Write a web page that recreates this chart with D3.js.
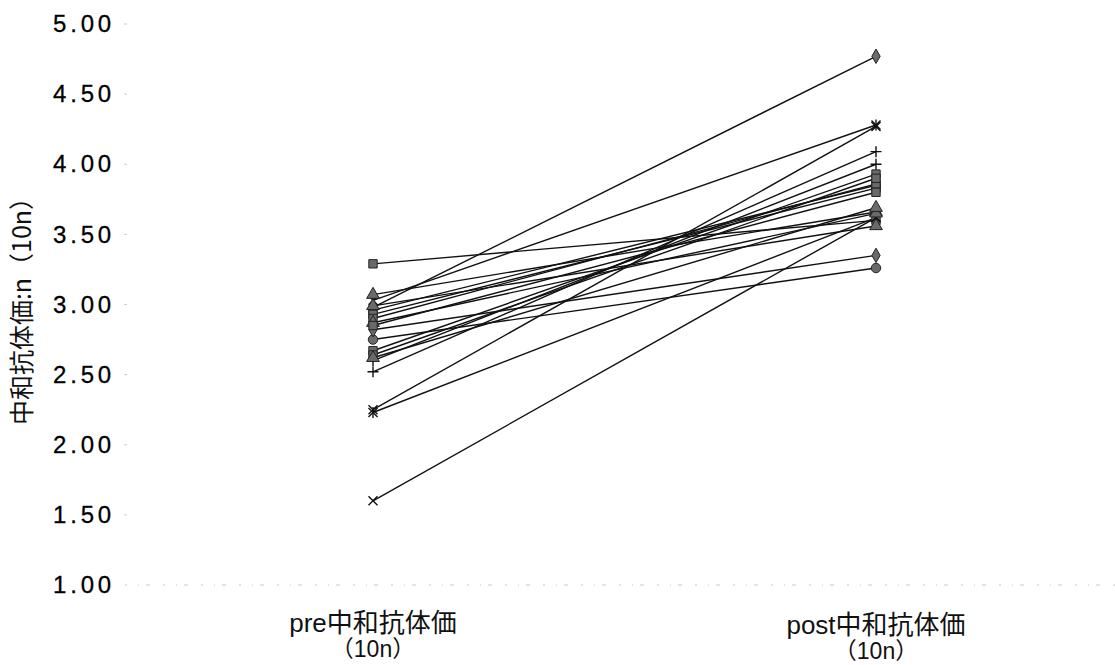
<!DOCTYPE html>
<html><head><meta charset="utf-8">
<script src="https://cdn.jsdelivr.net/npm/d3@7"></script>
<style>body{margin:0;background:#fff}</style>
</head><body>
<svg id="c" width="1115" height="665"></svg>
<script>
const categories = ["pre中和抗体価", "post中和抗体価"];
const categorySub = ["（10n）", "（10n）"];
const preValues  = [2.98, 3.29, 3.03, 2.25, 2.23, 2.75, 2.82, 1.60, 2.52, 2.60, 3.07, 2.96, 2.93, 2.90, 2.87, 2.67, 2.64, 2.99, 2.62, 2.85];
const postValues = [4.77, 3.60, 4.28, 4.27, 3.62, 3.26, 3.35, 3.62, 4.09, 4.00, 3.66, 3.85, 3.83, 3.86, 3.65, 3.93, 3.90, 3.56, 3.69, 3.80];
const markers    = ["diamond","square","star","x","star","circle","diamond","x","plus","plus","triangle","square","square","square","triangle","square","square","triangle","triangle","square"];
const yTicks = [1.00, 1.50, 2.00, 2.50, 3.00, 3.50, 4.00, 4.50, 5.00];
const yTitle = "中和抗体価:n（10n）";

const svg = d3.select("#c");
const y = d3.scaleLinear().domain([1, 5]).range([585, 24]);
const x = d3.scalePoint().domain(categories).range([373, 876]);

// y tick labels
const yAxis = d3.axisLeft(y).tickValues(yTicks).tickFormat(d3.format(".2f")).tickSize(0).tickPadding(0);
const gy = svg.append("g").attr("transform", "translate(112,0)").call(yAxis);
gy.select(".domain").remove();
gy.selectAll("text").attr("font-family", "'Liberation Sans', Arial, sans-serif")
  .attr("font-size", 24).attr("fill", "#000").attr("letter-spacing", 3.8).attr("dx", 3)
  .attr("stroke", "#000").attr("stroke-width", 0.3);

// faint tick dots
svg.append("g").selectAll("line").data(yTicks.slice(1)).join("line")
  .attr("x1", 124).attr("x2", 127).attr("y1", d => y(d)).attr("y2", d => y(d))
  .attr("stroke", "#ccc").attr("stroke-width", 1);

// faint baseline
svg.append("line").attr("x1", 125).attr("x2", 1115).attr("y1", y(1)).attr("y2", y(1))
  .attr("stroke", "#c8c8c8").attr("stroke-width", 1).attr("stroke-dasharray", "2,11,1,7,4,13");

// y title
svg.append("text").attr("transform", "translate(31,305) rotate(-90)")
  .attr("text-anchor", "middle").attr("font-family", "'Noto Sans CJK JP', sans-serif")
  .attr("font-size", 25).attr("fill", "#111").text(yTitle);

// x labels
const labelFont = "'Liberation Sans', 'Noto Sans CJK JP', sans-serif";
const xl = svg.append("g");
categories.forEach((c, i) => {
  const dy = i === 0 ? 0 : 2;
  xl.append("text").attr("x", x(c)).attr("y", 632 + dy).attr("text-anchor", "middle")
    .attr("font-family", labelFont).attr("font-size", 26).attr("fill", "#111").text(c);
  xl.append("text").attr("x", x(c)).attr("y", 657 + dy).attr("text-anchor", "middle")
    .attr("font-family", labelFont).attr("font-size", 23).attr("fill", "#111").text(categorySub[i]);
});

const subjects = preValues.map((p, i) => ({pre: p, post: postValues[i], marker: markers[i]}));

// lines
const line = d3.line().x(d => x(d[0])).y(d => y(d[1]));
svg.append("g").selectAll("path").data(subjects).join("path")
  .attr("d", s => line([[categories[0], s.pre], [categories[1], s.post]]))
  .attr("fill", "none").attr("stroke", "#111").attr("stroke-width", 1.4);

// markers
const symMap = {diamond: d3.symbolDiamond, square: d3.symbolSquare, triangle: d3.symbolTriangle, circle: d3.symbolCircle};
function drawMarker(g, type, cx, cy) {
  const gg = g.append("g").attr("transform", `translate(${cx},${cy})`);
  if (symMap[type]) {
    gg.append("path").attr("d", d3.symbol().type(symMap[type]).size(type === "diamond" ? 60 : 70)())
      .attr("fill", "#6a6a6a").attr("stroke", "#222").attr("stroke-width", 1);
  } else {
    const r = 4.5;
    if (type === "x" || type === "star") {
      gg.append("path").attr("d", `M${-r},${-r}L${r},${r}M${-r},${r}L${r},${-r}`).attr("stroke", "#111").attr("stroke-width", 1.4);
    }
    if (type === "star") {
      gg.append("path").attr("d", `M0,${-r-1}L0,${r+1}`).attr("stroke", "#111").attr("stroke-width", 1.4);
    }
    if (type === "plus") {
      gg.append("path").attr("d", `M${-r-1},0L${r+1},0M0,${-r-1}L0,${r+1}`).attr("stroke", "#111").attr("stroke-width", 1.4);
    }
  }
}
const mg = svg.append("g");
subjects.forEach(s => {
  drawMarker(mg, s.marker, x(categories[0]), y(s.pre));
  drawMarker(mg, s.marker, x(categories[1]), y(s.post));
});
</script>
</body></html>
